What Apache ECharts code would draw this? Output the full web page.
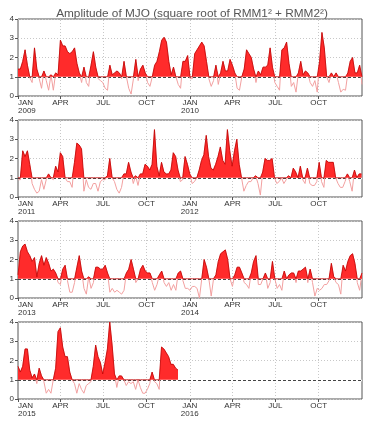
<!DOCTYPE html>
<html><head><meta charset="utf-8">
<script src="https://cdn.jsdelivr.net/npm/echarts@6/dist/echarts.min.js"></script>
<style>html,body{margin:0;padding:0;background:#fff}#c{width:386px;height:425px}</style>
</head><body><div id="c"></div>
<script>
// Each panel covers two years; values are read every 5 days starting Jan 1.
const startYears = [2009, 2011, 2013, 2015];
const stepDays = 5;
const quarterLabels = ['JAN', 'APR', 'JUL', 'OCT'];
const yTicks = [0, 1, 2, 3, 4];
const titleText = 'Amplitude of MJO (square root of RMM1\u00B2 + RMM2\u00B2)';

const amp2009 = [1.4,1.4,1.8,2.4,1.6,0.95,0.7,2.5,1.4,0.9,0.4,1.3,0.8,0.3,1.1,0.3,1.2,1.1,2.9,2.6,
  2.6,2.3,2.2,2.3,2.5,1.7,1.2,0.7,1.5,0.7,0.5,1.6,2.3,1.5,0.9,0.8,0.7,0.4,0.3,1.6,
  1.1,1.2,1.3,1.2,0.9,1.8,1.0,0.4,0.1,0.9,1.9,0.8,1.4,1.6,1.2,0.7,0.5,1.0,1.6,1.8,
  2.3,2.9,3.05,2.8,1.8,1.1,1.5,1.0,0.6,0.4,1.8,1.8,2.1,0.9,0.9,2.2,2.4,2.6,2.8,2.6,
  1.8,0.9,0.5,0.8,1.6,0.6,1.2,1.8,1.3,1.3,1.9,1.6,1.2,0.4,0.3,1.0,1.4,2.4,2.2,2.0,
  1.4,0.7,1.3,1.1,1.5,1.5,1.6,2.5,1.5,0.7,0.5,0.3,2.4,2.5,2.8,1.7,0.5,0.7,0.2,1.2,
  1.8,1.1,1.3,1.2,0.7,0.5,0.8,0.2,1.8,3.3,2.5,1.0,0.7,1.2,1.0,1.2,0.7,0.2,0.35,0.3,
  1.2,1.8,2.0,1.2,1.2,1.6,0.6];
const amp2011 = [0.9,0.9,2.4,2.1,2.4,1.7,0.7,0.4,0.2,0.3,0.9,0.4,0.9,1.2,1.0,0.9,1.6,1.3,2.3,2.1,
  1.0,0.8,0.8,0.5,1.8,2.8,2.7,2.5,0.3,0.9,0.5,0.4,0.7,0.7,0.3,0.8,0.9,0.9,1.1,2.0,
  1.0,0.8,0.4,0.2,0.5,1.2,1.2,1.8,1.3,0.7,1.1,0.6,1.2,1.2,1.7,1.6,1.4,1.7,3.5,1.6,
  1.1,1.8,1.3,1.2,1.2,1.4,2.3,2.1,1.4,0.8,0.9,2.1,1.7,1.2,0.7,0.8,1.0,1.4,1.9,2.2,
  3.2,2.1,1.5,1.4,1.7,2.1,2.6,1.9,1.7,3.5,2.4,1.6,2.4,3.0,1.7,1.0,0.3,0.6,0.8,0.8,
  1.0,1.1,0.7,0.1,1.3,2.0,1.9,1.9,2.0,1.0,0.7,0.8,1.0,0.7,0.9,1.1,1.0,1.5,1.3,1.0,
  1.6,0.9,0.7,1.5,0.7,0.6,0.6,0.8,1.8,0.8,0.5,1.9,1.8,1.8,1.8,1.0,0.7,0.5,0.5,0.8,
  1.2,0.8,0.3,1.4,1.0,1.2,1.2];
const amp2013 = [1.2,2.4,2.7,2.8,2.4,2.2,1.9,2.1,1.1,1.8,2.2,1.7,2.1,1.8,1.4,1.5,1.3,0.8,0.7,1.5,
  1.7,0.9,0.3,0.3,0.8,1.6,2.2,1.4,0.5,0.2,1.1,0.5,0.8,1.6,1.6,1.5,1.5,1.7,1.3,0.3,
  0.5,0.3,0.4,0.3,0.2,0.4,1.3,1.5,2.0,1.5,0.8,1.0,1.5,1.7,1.4,1.3,1.3,0.8,0.4,0.7,
  1.2,1.4,0.8,0.6,0.8,0.4,0.7,0.4,1.3,1.4,0.9,0.5,0.5,0.4,0.6,0.6,0.5,0.0,1.0,2.0,
  1.6,1.0,0.1,1.0,1.2,1.9,2.3,2.4,2.5,2.0,1.0,0.6,1.2,1.6,1.6,1.3,0.8,0.7,0.5,1.3,
  1.9,2.2,0.7,0.7,1.0,1.3,0.5,0.8,1.9,1.0,0.5,0.7,0.4,1.4,1.0,1.2,1.3,1.3,0.8,1.4,
  1.4,1.5,1.6,0.8,1.5,0.8,0.1,0.5,0.4,0.5,0.7,0.7,0.9,1.8,1.1,0.8,0.7,0.2,1.7,1.4,
  1.9,2.2,2.3,1.8,0.8,0.4,1.3];
const amp2015 = [1.7,1.4,1.7,2.6,2.6,1.5,1.1,1.3,0.8,1.6,1.2,0.9,0.3,0.5,0.3,1.0,1.6,3.5,3.7,2.7,
  2.2,2.2,1.4,1.0,0.8,0.3,0.8,0.5,0.3,0.7,0.8,0.9,1.7,2.8,2.2,1.9,1.3,1.9,2.6,4.0,
  2.8,1.3,0.6,1.2,1.2,1.0,0.7,0.9,0.8,0.9,0.5,1.0,0.6,0.3,0.3,0.5,0.8,1.4,0.9,0.8,
  0.5,2.7,2.6,2.4,2.2,1.8,1.8,1.6,1.5];
const panelValues = [amp2009, amp2011, amp2013, amp2015];

const DAY = 86400000;
function dayIndex(y0, y, m) { return Math.round((Date.UTC(y, m, 1) - Date.UTC(y0, 0, 1)) / DAY); }

const gridTops = [19, 120, 221, 322];
const grids = [], xAxes = [], yAxes = [], series = [];

panelValues.forEach((vals, p) => {
  const y0 = startYears[p];
  const qDays = [], qText = {};
  for (let yy = 0; yy < 2; yy++) {
    quarterLabels.forEach((lab, qi) => {
      const d = dayIndex(y0, y0 + yy, qi * 3);
      qDays.push(d);
      qText[d] = qi === 0 ? lab + '\n' + (y0 + yy) : lab;
    });
  }
  const total = dayIndex(y0, y0 + 2, 0);
  grids.push({ left: 18, right: 24, top: gridTops[p], height: 77, show: true,
    borderColor: '#555', borderWidth: 1, backgroundColor: '#fff' });
  xAxes.push({ type: 'value', gridIndex: p, min: 0, max: total,
    axisLine: { show: false },
    axisTick: { show: true, customValues: qDays, length: 3, lineStyle: { color: '#555' } },
    axisLabel: { customValues: qDays, formatter: v => qText[v] || '', fontSize: 8, lineHeight: 8,
      color: '#333', margin: 3, fontFamily: 'Liberation Sans', alignMinLabel: 'left' },
    splitLine: { show: false } });
  yAxes.push({ type: 'value', gridIndex: p, min: 0, max: 4, interval: 1,
    axisLine: { show: false },
    axisTick: { show: true, length: 3, lineStyle: { color: '#555' } },
    axisLabel: { fontSize: 8, color: '#333', margin: 4, fontFamily: 'Liberation Sans' },
    splitLine: { show: true, lineStyle: { color: '#c8c8c8', type: [1, 2], width: 1 } } });

  const full = vals.map((v, i) => [i * stepDays, v]);
  const clipped = vals.map((v, i) => [i * stepDays, Math.max(v, 1)]);
  // vertical dotted grid lines (bottom layer)
  series.push({ type: 'line', xAxisIndex: p, yAxisIndex: p, data: [], zlevel: 0, z: 1, silent: true,
    markLine: { silent: true, symbol: ['none', 'none'], label: { show: false }, animation: false,
      lineStyle: { color: '#c8c8c8', type: [1, 2], width: 1 },
      data: qDays.filter(d => d > 0).map(d => ({ xAxis: d })) } });
  series.push({ type: 'line', xAxisIndex: p, yAxisIndex: p, data: full, zlevel: 1, z: 2,
    showSymbol: false, symbol: 'none', animation: false,
    lineStyle: { color: '#f2a0a0', width: 1 } });
  series.push({ type: 'line', xAxisIndex: p, yAxisIndex: p, data: clipped, zlevel: 1, z: 3,
    showSymbol: false, symbol: 'none', animation: false,
    lineStyle: { color: '#c00000', width: 0.8 },
    areaStyle: { color: '#ff2b2b', opacity: 1, origin: 1 } });
  series.push({ type: 'line', xAxisIndex: p, yAxisIndex: p, data: full, zlevel: 1, z: 4,
    showSymbol: false, symbol: 'none', animation: false, lineStyle: { opacity: 0 },
    markLine: { silent: true, symbol: ['none', 'none'], label: { show: false }, animation: false,
      data: [
        { yAxis: 1, lineStyle: { color: '#ffffff', type: 'solid', width: 1.4 } },
        { yAxis: 1, lineStyle: { color: '#444', type: [3, 2], width: 1 } }
      ] } });
});

const chart = echarts.init(document.getElementById('c'), null, { renderer: 'canvas' });
chart.setOption({
  animation: false,
  backgroundColor: '#fff',
  title: { text: titleText, left: 187, top: 3, textAlign: 'center',
    textStyle: { fontSize: 11.8, fontWeight: 'normal', color: '#555', fontFamily: 'Liberation Sans' } },
  grid: grids, xAxis: xAxes, yAxis: yAxes, series: series
});
</script></body></html>
